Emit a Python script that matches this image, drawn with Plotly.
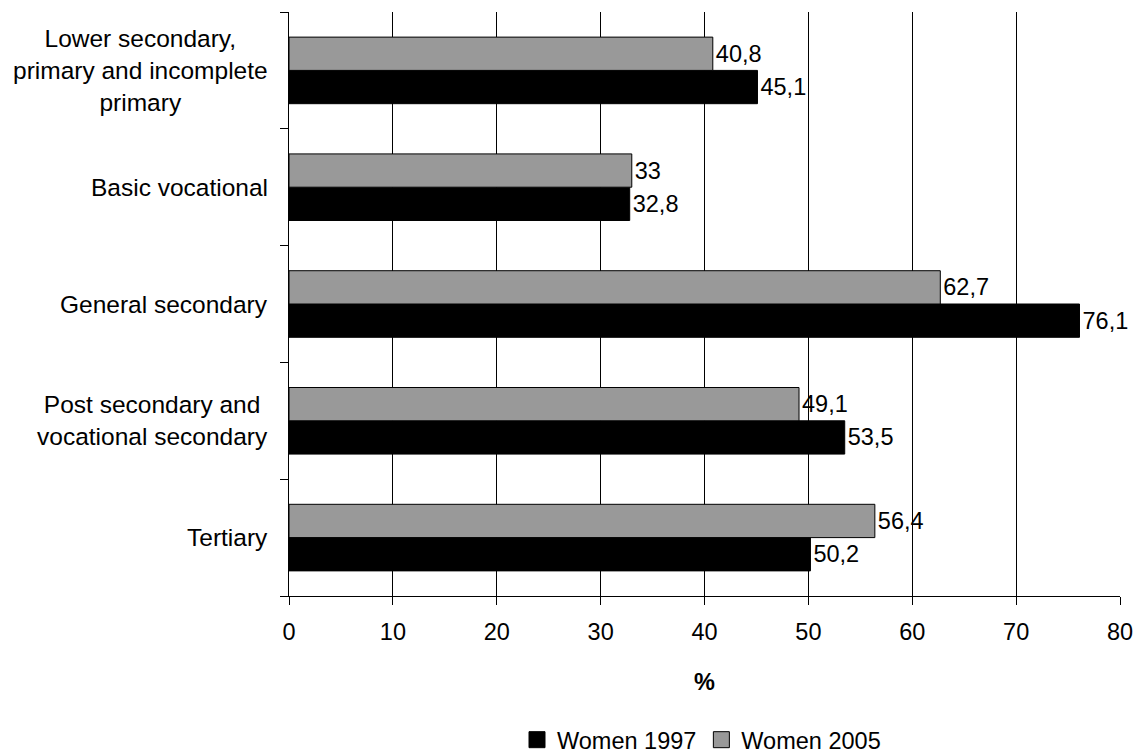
import plotly.graph_objects as go

categories = [
    "Tertiary",
    "Post secondary and<br>vocational secondary",
    "General secondary",
    "Basic vocational",
    "Lower secondary,<br>primary and incomplete<br>primary",
]
women_1997 = [50.2, 53.5, 76.1, 32.8, 45.1]
women_2005 = [56.4, 49.1, 62.7, 33.0, 40.8]
x_ticks = [0, 10, 20, 30, 40, 50, 60, 70, 80]

FONT = "Liberation Sans, Arial, sans-serif"
FS = 23.5
FS_CAT = 24.5

series = [
    ("Women 1997", women_1997, "#000000"),
    ("Women 2005", women_2005, "#999999"),
]

fig = go.Figure()
for name, values, color in series:
    fig.add_trace(go.Bar(
        y=categories, x=values, name=name, orientation="h",
        marker=dict(color=color, line=dict(color="#000000", width=1)),
        texttemplate="%{x}", textposition="outside", cliponaxis=False,
        textfont=dict(size=FS, color="#000000", family=FONT),
        showlegend=False, legendgroup=name,
    ))
# Larger square swatches for the legend
for name, values, color in series:
    fig.add_trace(go.Scatter(
        x=[None], y=[None], mode="markers", name=name, legendgroup=name,
        marker=dict(symbol="square", size=16, color=color,
                    line=dict(color="#000000", width=1)),
        showlegend=True,
    ))

# Category labels as centred text blocks to the left of the axis
for cat in categories:
    fig.add_annotation(
        x=0, xref="paper", y=cat, yref="y", text=cat, showarrow=False,
        xanchor="right", yanchor="middle", align="center", xshift=-19,
        font=dict(size=FS_CAT, color="#000000", family=FONT),
    )

fig.update_layout(
    width=1139, height=755,
    margin=dict(l=289, r=19, t=12, b=159),
    paper_bgcolor="white", plot_bgcolor="white",
    barmode="group", bargap=0.43, bargroupgap=0,
    separators=", ",
    font=dict(family=FONT, size=FS, color="#000000"),
    showlegend=True,
    legend=dict(
        orientation="h", x=517 / 1139, xref="container", xanchor="left",
        y=0.02, yref="container", yanchor="middle",
        font=dict(size=FS, family=FONT), traceorder="normal",
        itemwidth=30, tracegroupgap=0,
    ),
    xaxis=dict(
        range=[0, 80], tickvals=x_ticks, showgrid=True, gridcolor="#000000",
        gridwidth=1, zeroline=False, showline=True, linecolor="#000000",
        ticks="outside", ticklen=8, tickcolor="#000000", ticklabelstandoff=7,
        tickfont=dict(size=FS, family=FONT), automargin=False,
        title=dict(text="<b>%</b>", font=dict(size=FS, family=FONT), standoff=29),
    ),
    yaxis=dict(
        categoryorder="array", categoryarray=categories,
        showticklabels=False, showline=True, linecolor="#000000",
        ticks="outside", ticklen=8, tickcolor="#000000", tickson="boundaries",
        showgrid=False, zeroline=False, automargin=False,
    ),
)

fig.write_html("out.html")
